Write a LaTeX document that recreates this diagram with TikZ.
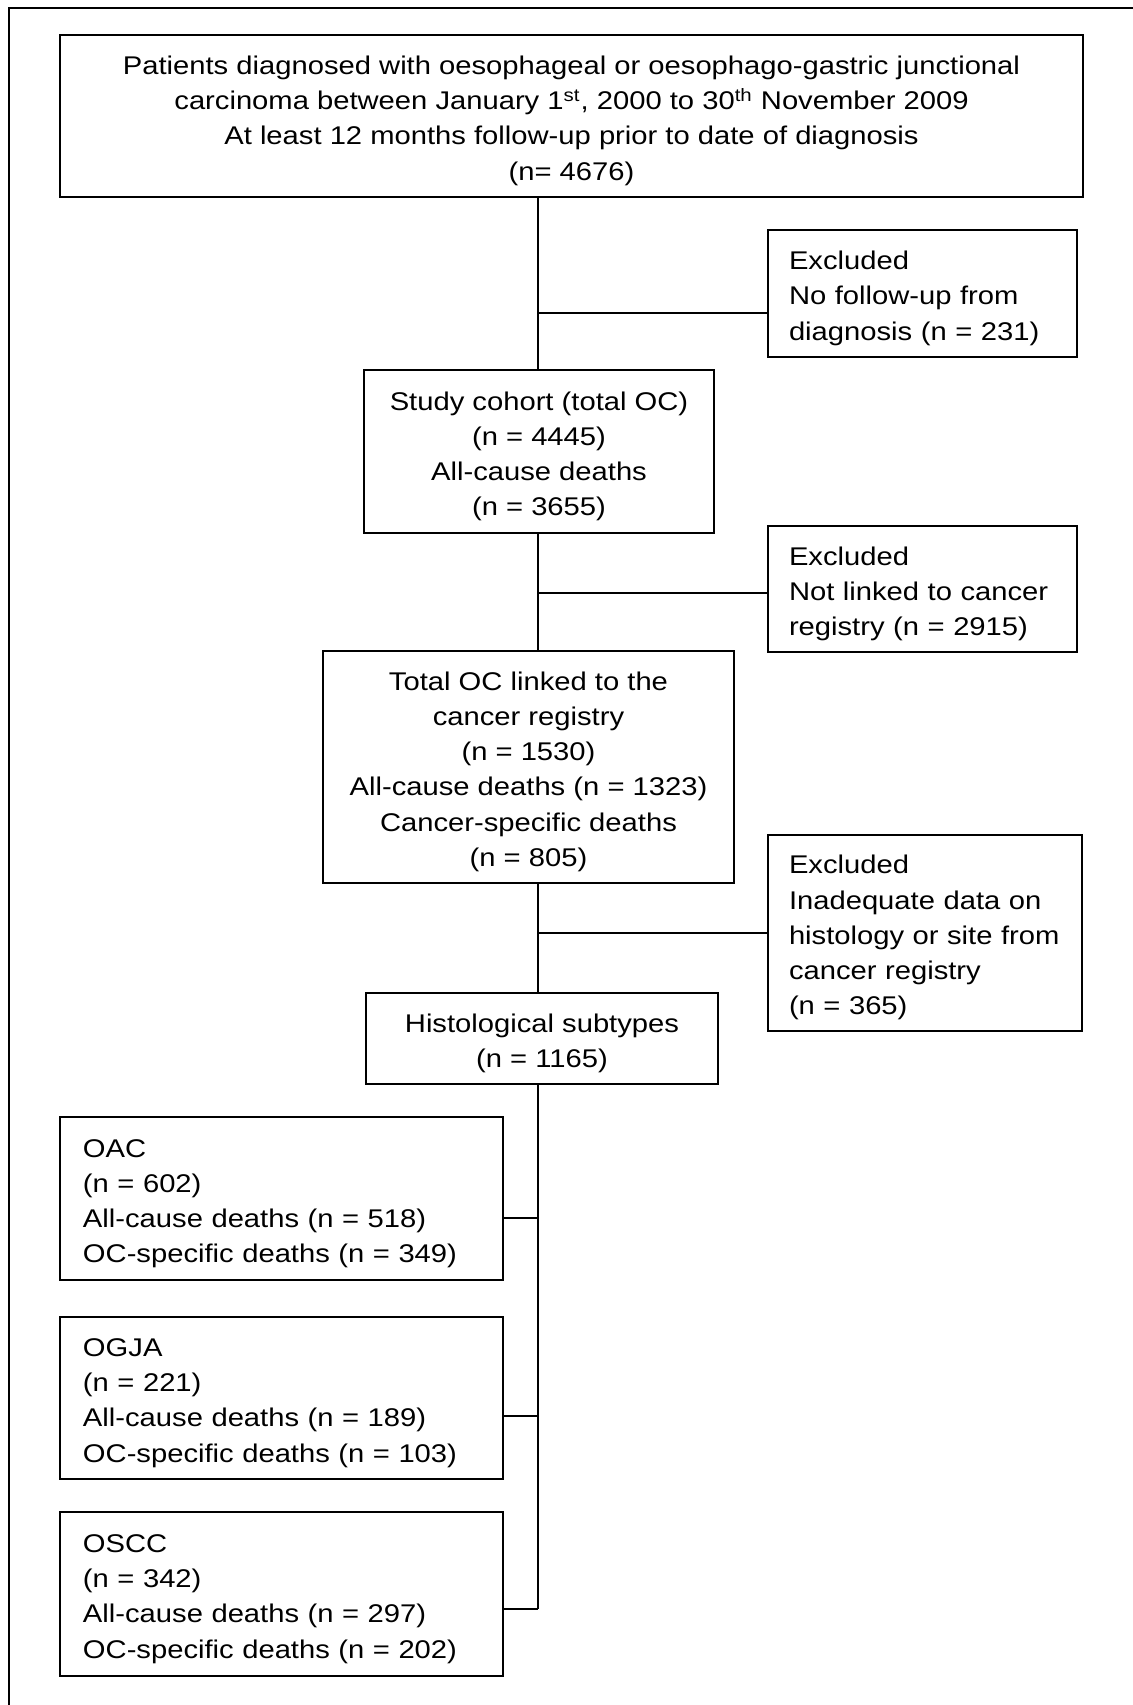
\documentclass[tikz,border=0pt]{standalone}
\usepackage{fontspec}
\setmainfont[FakeStretch=1.14]{Liberation Sans}
\newcommand{\firstl}{\rule{0pt}{14pt}}
\begin{document}
\begin{tikzpicture}[x=0.5pt,y=-0.5pt,
  box/.style={draw, line width=1pt, inner sep=0pt, font=\fontsize{12.8}{17.6}\selectfont},
  cbox/.style={box, align=center},
  lbox/.style={box, align=left},
  conn/.style={line width=0.8pt}]
\useasboundingbox (0,0) rectangle (1133,1705);
\draw[line width=1pt] (9,1705) -- (9,8) -- (1133,8);
\node[cbox, minimum width=511.5pt, minimum height=81pt] (top) at (571.5,116)
 {\firstl Patients diagnosed with oesophageal or oesophago-gastric junctional\\
  carcinoma between January 1\textsuperscript{st}, 2000 to 30\textsuperscript{th} November 2009\\
  At least 12 months follow-up prior to date of diagnosis\\
  (n= 4676)};
\node[lbox, minimum width=154.5pt, minimum height=63.5pt, text width=133.5pt] (ex1) at (922.5,293.5)
 {\firstl Excluded\\No follow-up from\\diagnosis (n = 231)};
\node[cbox, minimum width=175pt, minimum height=81.5pt] (study) at (539,451.5)
 {\firstl Study cohort (total OC)\\(n = 4445)\\All-cause deaths\\(n = 3655)};
\node[lbox, minimum width=154.5pt, minimum height=63pt, text width=133.5pt] (ex2) at (922.5,589)
 {\firstl Excluded\\Not linked to cancer\\registry (n = 2915)};
\node[cbox, minimum width=205.5pt, minimum height=116pt] (total) at (528.5,767)
 {\firstl Total OC linked to the\\cancer registry\\(n = 1530)\\All-cause deaths (n = 1323)\\Cancer-specific deaths\\(n = 805)};
\node[lbox, minimum width=157pt, minimum height=98pt, text width=136pt] (ex3) at (925,933)
 {\firstl Excluded\\Inadequate data on\\histology or site from\\cancer registry\\(n = 365)};
\node[cbox, minimum width=176pt, minimum height=45.5pt] (hist) at (542,1038.5)
 {\firstl Histological subtypes\\(n = 1165)};
\node[lbox, minimum width=221.5pt, minimum height=81.5pt, text width=198.5pt] (oac) at (281.5,1198.5)
 {\firstl OAC\\(n = 602)\\All-cause deaths (n = 518)\\OC-specific deaths (n = 349)};
\node[lbox, minimum width=221.5pt, minimum height=81pt, text width=198.5pt] (ogja) at (281.5,1398)
 {\firstl OGJA\\(n = 221)\\All-cause deaths (n = 189)\\OC-specific deaths (n = 103)};
\node[lbox, minimum width=221.5pt, minimum height=82pt, text width=198.5pt] (oscc) at (281.5,1594)
 {\firstl OSCC\\(n = 342)\\All-cause deaths (n = 297)\\OC-specific deaths (n = 202)};
\coordinate (b1) at (538,313);
\coordinate (b2) at (538,593);
\coordinate (b3) at (538,933);
\coordinate (s1) at (538,1218);
\coordinate (s2) at (538,1416);
\coordinate (s3) at (538,1609);
\draw[conn] (b1 |- top.south) -- (b1 |- study.north);
\draw[conn] (b1) -- (b1 -| ex1.west);
\draw[conn] (b2 |- study.south) -- (b2 |- total.north);
\draw[conn] (b2) -- (b2 -| ex2.west);
\draw[conn] (b3 |- total.south) -- (b3 |- hist.north);
\draw[conn] (b3) -- (b3 -| ex3.west);
\draw[conn] (s1 |- hist.south) -- (s3);
\draw[conn] (s1 -| oac.east) -- (s1);
\draw[conn] (s2 -| ogja.east) -- (s2);
\draw[conn] (s3 -| oscc.east) -- (s3);
\end{tikzpicture}
\end{document}
